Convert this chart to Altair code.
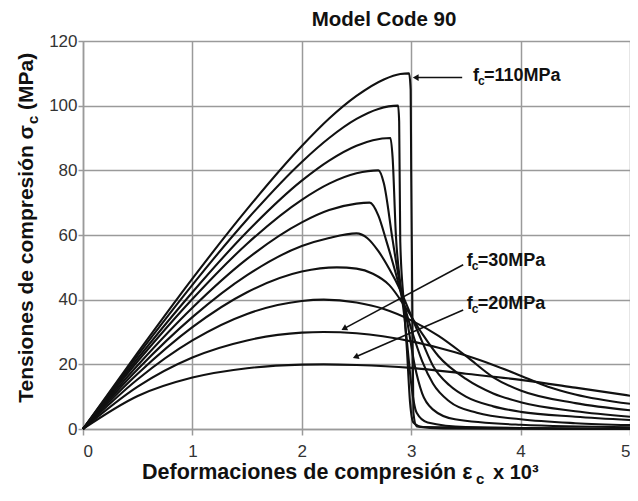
import altair as alt
import pandas as pd

# ---- curve data (strain x 10^3, stress MPa) ----
fc_values = [20, 30, 40, 50, 60, 70, 80, 90, 100, 110]

eps_20 = [0, 0.5, 1.0, 1.5, 2.0, 2.2, 2.5, 3.0, 3.5, 4.0, 4.5, 5.0]
sig_20 = [0, 10.2, 15.9, 18.8, 19.9, 20.0, 19.8, 18.9, 17.1, 15.2, 12.8, 10.3]

eps_30 = [0, 0.5, 1.0, 1.5, 2.0, 2.2, 2.5, 3.0, 3.25, 3.5, 3.75, 4.0, 4.25, 4.5, 5.0]
sig_30 = [0, 13.1, 22.1, 27.4, 29.8, 30.0, 29.6, 27.1, 25.1, 22.7, 19.8, 16.5, 13.1, 10.7, 7.8]

eps_40 = [0, 0.5, 1.0, 1.5, 2.0, 2.2, 2.5, 2.75, 3.0, 3.25, 3.5, 3.75, 4.0, 4.5, 5.0]
sig_40 = [0, 15.4, 27.4, 35.6, 39.6, 40.0, 39.1, 37.1, 33.6, 28.8, 22.6, 16.0, 11.9, 8.0, 5.8]

eps_50 = [0, 0.5, 1.0, 1.5, 2.0, 2.32, 2.5, 2.65, 2.8, 2.95, 3.1, 3.25, 3.5, 3.75, 4.0, 4.5, 5.0]
sig_50 = [0, 17.1, 31.5, 42.3, 48.7, 50.0, 49.6, 48.0, 44.5, 37.5, 29.5, 22.5, 15.5, 11.0, 8.3, 5.5, 3.8]

eps_60 = [0, 0.5, 1.0, 1.5, 2.0, 2.25, 2.5, 2.6, 2.7, 2.8, 2.9, 3.0, 3.1, 3.2, 3.35, 3.5, 3.75, 4.0, 4.5, 5.0]
sig_60 = [0, 18.5, 34.6, 47.6, 56.6, 59.1, 60.5, 59.0, 55.0, 49.5, 43.0, 35.0, 27.0, 19.5, 13.5, 10.0, 7.0, 5.3, 3.8, 2.8]

eps_70 = [0, 0.5, 1.0, 1.5, 2.0, 2.25, 2.5, 2.62, 2.7, 2.77, 2.86, 2.93, 3.0, 3.1, 3.2, 3.35, 3.6, 4.0, 4.5, 5.0]
sig_70 = [0, 19.7, 37.5, 52.6, 63.9, 67.7, 69.7, 70.0, 66.0, 58.5, 48.0, 39.0, 31.0, 21.0, 14.0, 8.5, 5.0, 3.0, 1.8, 1.2]

eps_80 = [0, 0.5, 1.0, 1.5, 2.0, 2.25, 2.5, 2.7, 2.75, 2.83, 2.88, 2.92, 2.97, 3.03, 3.1, 3.2, 3.4, 4.0, 5.0]
sig_80 = [0, 20.9, 40.2, 57.3, 70.9, 75.9, 79.1, 80.0, 76.0, 58.5, 48.0, 41.0, 32.0, 20.0, 11.0, 6.0, 3.0, 1.3, 0.5]

eps_90 = [0, 0.5, 1.0, 1.5, 2.0, 2.25, 2.5, 2.65, 2.81, 2.83, 2.86, 2.9, 2.94, 2.97, 3.0, 3.05, 3.15, 3.5, 5.0]
sig_90 = [0, 21.8, 42.3, 61.0, 76.8, 83.0, 87.6, 89.3, 90.0, 84.0, 60.0, 45.0, 34.0, 24.0, 14.0, 5.0, 2.0, 0.6, 0]

eps_100 = [0, 0.5, 1.0, 1.5, 2.0, 2.25, 2.5, 2.7, 2.88, 2.89, 2.9, 2.93, 2.96, 2.99, 3.02, 3.1, 5.0]
sig_100 = [0, 22.8, 44.6, 64.8, 82.6, 90.0, 95.9, 99.0, 100.0, 95.0, 58.0, 40.0, 25.0, 8.0, 2.0, 0.6, 0]

eps_110 = [0, 0.5, 1.0, 1.5, 2.0, 2.25, 2.5, 2.75, 2.9, 2.98, 2.995, 3.0, 3.01, 3.02, 3.05, 3.3, 5.0]
sig_110 = [0, 23.6, 46.5, 68.0, 87.5, 96.0, 103.0, 108.1, 109.8, 110.0, 105.0, 80.0, 40.0, 5.0, 0.8, 0.2, 0]

# ---- annotations ----
arrow_x = [3.466, 3.475, 3.475]
arrow_y = [108.7, 50.8, 36.8]
arrow_x2 = [3.05, 2.394, 2.5]
arrow_y2 = [108.7, 31.2, 22.4]
arrow_angle = [270, 242, 247]

label_x = [3.565, 3.508, 3.508]
label_y = [107.6, 50.3, 37.0]
label_text = ["=110MPa", "=30MPa", "=20MPa"]

x_ticks = [0, 1, 2, 3, 4, 5]
y_ticks = [0, 20, 40, 60, 80, 100, 120]

FONT = "Liberation Sans"
GRID = "#9a9a9a"

curves = dict(zip(fc_values, [
    (eps_20, sig_20), (eps_30, sig_30), (eps_40, sig_40), (eps_50, sig_50),
    (eps_60, sig_60), (eps_70, sig_70), (eps_80, sig_80), (eps_90, sig_90),
    (eps_100, sig_100), (eps_110, sig_110)]))
rows = []
for fc, (e, s) in curves.items():
    for i, (a, b) in enumerate(zip(e, s)):
        rows.append({"fc": fc, "i": i, "eps": a, "sig": b})
df = pd.DataFrame(rows)

arrows = pd.DataFrame({"x": arrow_x, "y": arrow_y, "x2": arrow_x2, "y2": arrow_y2, "ang": arrow_angle})
labels = pd.DataFrame({"x": label_x, "y": label_y, "t": label_text})

xs = alt.Scale(domain=[0, 5], nice=False, zero=False)
ys = alt.Scale(domain=[0, 120], nice=False, zero=False)
xax = alt.Axis(values=x_ticks, title=None, format="d", labelFontSize=17, labelFont=FONT,
               labelColor="#333333", tickSize=6, tickColor=GRID, domainColor=GRID,
               gridColor=GRID, gridWidth=1.5, domainWidth=1.5, tickWidth=1.5, labelPadding=8)
yax = alt.Axis(values=y_ticks, title=None, format="d", labelFontSize=17, labelFont=FONT,
               labelColor="#333333", tickSize=5, tickColor=GRID, domainColor=GRID,
               gridColor=GRID, gridWidth=1.5, domainWidth=1.5, tickWidth=1.5, labelPadding=1)


def X(f):
    return alt.X(f, type="quantitative", scale=xs, axis=xax)


def Y(f):
    return alt.Y(f, type="quantitative", scale=ys, axis=yax)


lines = alt.Chart(df).mark_line(color="#111111", strokeWidth=2.1, interpolate="monotone").encode(
    x=X("eps"), y=Y("sig"), detail="fc:N", order="i:Q")

arrow_lines = alt.Chart(arrows).mark_rule(color="#111111", strokeWidth=1.6).encode(
    x=X("x"), y=Y("y"), x2="x2:Q", y2="y2:Q")

heads = alt.Chart(arrows).mark_point(shape="triangle", filled=True, size=45, color="#111111", opacity=1).encode(
    x=X("x2"), y=Y("y2"), angle=alt.Angle("ang:Q", scale=None))

f_txt = alt.Chart(labels).mark_text(text="f", align="left", baseline="alphabetic", font=FONT,
                                    fontWeight="bold", fontSize=18, color="#111111").encode(x=X("x"), y=Y("y"))
c_txt = alt.Chart(labels).mark_text(text="c", align="left", baseline="alphabetic", font=FONT,
                                    fontWeight="bold", fontSize=12, dx=5, dy=4, color="#111111").encode(x=X("x"), y=Y("y"))
v_txt = alt.Chart(labels).mark_text(align="left", baseline="alphabetic", font=FONT,
                                    fontWeight="bold", fontSize=18, dx=11, color="#111111").encode(
    x=X("x"), y=Y("y"), text="t:N")


def fixed_text(s, x, y, size, align="left", angle=0):
    return alt.Chart(alt.Data(values=[{"t": s}])).mark_text(
        x=x, y=y, align=align, baseline="alphabetic", angle=angle, font=FONT,
        fontWeight="bold", fontSize=size, color="#111111").encode(text="t:N")


title = fixed_text("Model Code 90", 301, -15, 20.5, align="center")
xt1 = fixed_text("Deformaciones de compresión ε", 59, 438, 21.5)
xt2 = fixed_text("c", 393, 443, 15)
xt3 = fixed_text("x 10³", 410, 438, 20)
yt1 = fixed_text("Tensiones de compresión σ", -50, 84, 21, align="right", angle=270)
yt2 = fixed_text("c", -45, 83, 15, align="left", angle=270)
yt3 = fixed_text("(MPa)", -50, 69, 21, align="left", angle=270)

chart = alt.layer(lines, arrow_lines, heads, f_txt, c_txt, v_txt,
                  title, xt1, xt2, xt3, yt1, yt2, yt3).properties(
    width=547, height=388,
    padding={"left": 75, "top": 33, "right": 0, "bottom": 57},
    autosize=alt.AutoSizeParams(type="none"),
).configure_view(stroke=GRID, strokeWidth=1.5).configure(background="white")

chart.save("out.html", embed_options={"renderer": "svg", "actions": False})
